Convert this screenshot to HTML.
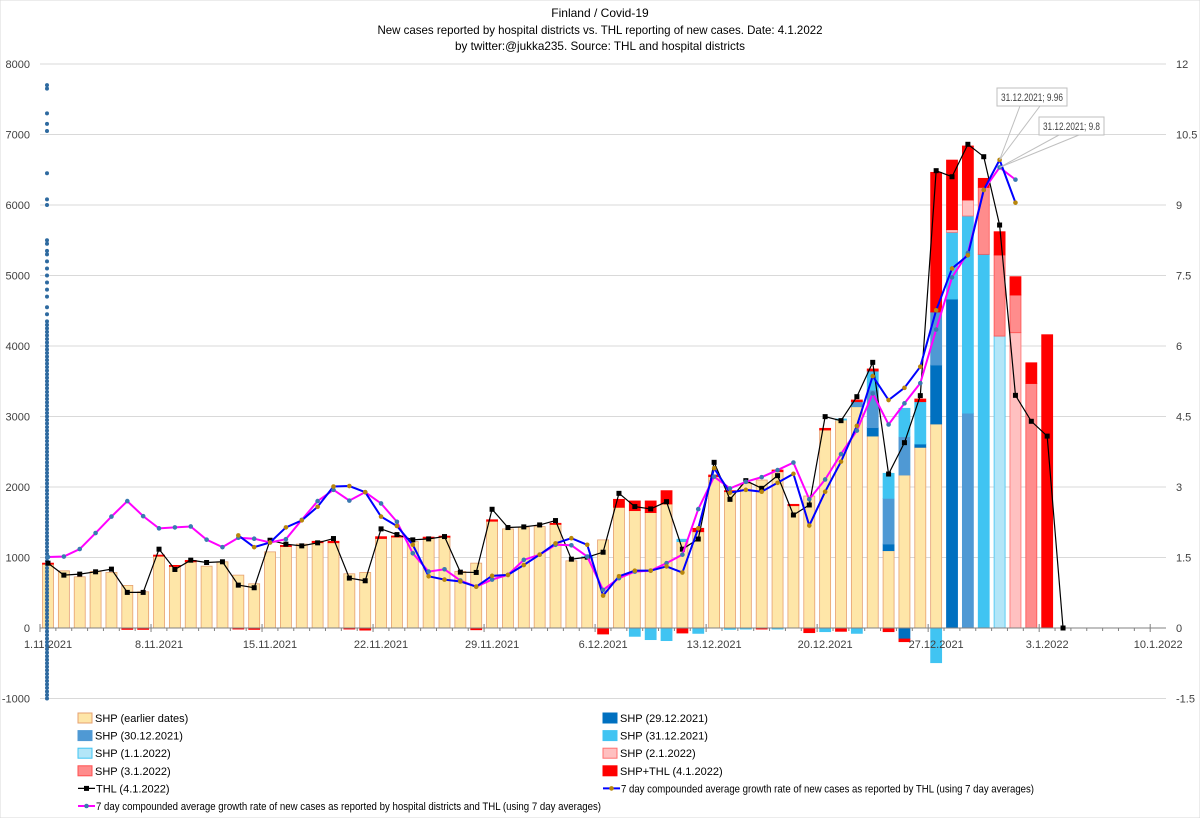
<!DOCTYPE html>
<html><head><meta charset="utf-8">
<style>
body{margin:0;background:#fff;}
svg{display:block;font-family:"Liberation Sans",Arial,sans-serif;}
</style></head>
<body>
<svg id="chart" width="1200" height="818" viewBox="0 0 1200 818" xmlns="http://www.w3.org/2000/svg">
<rect x="0" y="0" width="1200" height="818" fill="#fff" stroke="#d9d9d9"/>
<g font-size="12" text-anchor="middle" fill="#000">
<text x="600" y="17">Finland / Covid-19</text>
<text x="600" y="34" textLength="445" lengthAdjust="spacingAndGlyphs">New cases reported by hospital districts vs. THL reporting of new cases. Date: 4.1.2022</text>
<text x="600" y="50" textLength="290" lengthAdjust="spacingAndGlyphs">by twitter:@jukka235.  Source: THL and hospital districts</text>
</g>
<g id="grid"></g>
<g id="bars"></g>
<g id="axes"></g>
<g id="lines"></g>
<g id="labels"></g>
<g id="legend"></g>
</svg>
<script>
// ---- data ----
const tickDates = ["1.11.2021","8.11.2021","15.11.2021","22.11.2021","29.11.2021","6.12.2021","13.12.2021","20.12.2021","27.12.2021","3.1.2022","10.1.2022"];
const leftTicks = [8000,7000,6000,5000,4000,3000,2000,1000,0,-1000];
const rightTicks = ["12","10.5","9","7.5","6","4.5","3","1.5","0","-1.5"];
const shpEarlier = [905,811,726,802,788,604,514,1019,873,939,877,939,750,627,1080,1156,1190,1210,1210,769,788,1270,1290,1226,1274,1288,802,920,1515,1406,1429,1439,1470,953,1000,1250,1712,1665,1637,1759,1226,1366,2147,1934,2052,2099,2217,1735,1872,2809,2950,3139,2723,1097,2170,2563,2894];
const shp2912 = {52:119,53:94,54:-156,55:47,56:836,57:4666};
const shp3012 = {51:71,52:534,53:648,54:544,56:752,58:3048};
const shp3112 = {34:13,37:-118,38:-165,39:-179,40:33,41:-76,43:-19,44:-15,46:-15,49:-52,50:15,51:-76,52:269,53:355,54:402,55:600,56:-492,57:946,58:2796,59:5300};
const shp0101 = {60:4141};
const shp0201 = {57:38,58:227,61:4189};
const shp0301 = {59:950,60:1150,61:534,62:3468};
const shpThl = {0:15,5:-20,6:-20,7:15,8:15,9:20,12:-15,13:-20,15:15,17:20,18:20,19:-15,20:-30,21:25,22:15,24:15,25:15,27:-25,28:20,32:15,35:-85,36:113,37:137,38:165,39:189,40:-71,41:48,42:23,43:14,45:-15,46:24,47:19,48:-66,49:23,50:-47,51:24,52:29,53:-52,54:-38,55:38,56:1981,57:987,58:766,59:128,60:330,61:260,62:294,63:4160};
const thl = [920,750,764,797,835,505,505,1118,830,962,929,939,608,571,1245,1189,1165,1208,1269,708,670,1406,1325,1250,1264,1297,792,788,1684,1425,1434,1462,1524,976,1005,1075,1910,1722,1689,1792,1118,1262,2350,1825,2090,1981,2161,1603,1745,2998,2941,3281,3768,2184,2629,3296,6487,6401,6861,6685,5716,3300,2932,2722,0];
const rateShpThl = [1.51,1.52,1.68,2.02,2.37,2.70,2.38,2.12,2.14,2.16,1.88,1.72,1.92,1.90,1.82,1.89,2.30,2.70,2.94,2.71,2.89,2.65,2.26,1.59,1.20,1.25,1.01,0.88,1.03,1.13,1.45,1.56,1.77,1.76,1.52,0.81,1.06,1.20,1.22,1.38,1.56,2.53,3.22,2.97,3.11,3.21,3.36,3.52,2.74,3.16,3.70,4.20,4.99,4.33,4.78,5.21,6.35,7.46,7.98,9.32,9.80,9.54];
const rateThlStart = 12;
const rateThl = [1.97,1.72,1.82,2.14,2.29,2.58,3.01,3.02,2.89,2.37,2.17,1.77,1.10,1.03,0.99,0.88,1.11,1.13,1.34,1.56,1.80,1.91,1.77,0.69,1.10,1.22,1.22,1.31,1.18,2.12,3.40,2.88,2.94,2.90,3.09,3.28,2.18,2.90,3.54,4.30,5.36,4.85,5.11,5.56,6.76,7.65,7.93,9.32,9.96,9.05];
const markerColumn = [-1000,-950,-900,-850,-800,-750,-700,-650,-600,-550,-500,-450,-400,-350,-300,-250,-200,-150,-100,-50,0,50,100,150,200,250,300,350,400,450,500,550,600,650,700,750,800,850,900,950,1000,1050,1100,1150,1200,1250,1300,1350,1400,1450,1500,1550,1600,1650,1700,1750,1800,1850,1900,1950,2000,2050,2100,2150,2200,2250,2300,2350,2400,2450,2500,2550,2600,2650,2700,2750,2800,2850,2900,2950,3000,3050,3100,3150,3200,3250,3300,3350,3400,3450,3500,3550,3600,3650,3700,3750,3800,3850,3900,3950,4000,4050,4100,4150,4200,4250,4300,4350,4450,4550,4700,4800,4900,5000,5100,5200,5300,5350,5450,5500,6000,6080,6450,7050,7150,7300,7650,7700];

// ---- scales ----
const X0=48, DX=15.86, Y0=628, KY=0.0705, KR=47;
const xOf = i => X0 + i*DX;
const yOf = v => Y0 - v*KY;
const yR = r => Y0 - r*KR;
const NS="http://www.w3.org/2000/svg";
function mk(tag, attrs, parent){const e=document.createElementNS(NS,tag);for(const k in attrs)e.setAttribute(k,attrs[k]);parent.appendChild(e);return e;}
const grid=document.getElementById('grid'), bars=document.getElementById('bars'), axes=document.getElementById('axes'), lines=document.getElementById('lines'), labels=document.getElementById('labels'), legend=document.getElementById('legend');

// grid + tick labels
leftTicks.forEach((v,k)=>{
  if(v!==0){const g=mk('line',{x1:40,x2:1166,y1:yOf(v),y2:yOf(v),stroke:'#d9d9d9','stroke-width':1},grid);
  
  }
  const t=mk('text',{x:30,y:yOf(v)+4,'text-anchor':'end','font-size':11,fill:'#404040'},axes);t.textContent=v;
  
  
  const r=mk('text',{x:1176,y:yOf(v)+4,'font-size':11,fill:'#404040'},axes);r.textContent=rightTicks[k];
  
  
});

// bars
const series=[
 {d:null,fill:'#fee6a8',stroke:'#e6a070',name:'bar-shp-earlier'},
 {d:shp2912,fill:'#0070c0',stroke:'#0070c0',name:'bar-shp-29-12'},
 {d:shp3012,fill:'#4f99d4',stroke:'#4f99d4',name:'bar-shp-30-12'},
 {d:shp3112,fill:'#40c4f2',stroke:'#40c4f2',name:'bar-shp-31-12'},
 {d:shp0101,fill:'#b3e6f8',stroke:'#40c4f2',name:'bar-shp-1-1'},
 {d:shp0201,fill:'#ffc0c0',stroke:'#ff7070',name:'bar-shp-2-1'},
 {d:shp0301,fill:'#ff8c8c',stroke:'#ff5050',name:'bar-shp-3-1'},
 {d:shpThl,fill:'#ff0000',stroke:'#ff0000',name:'bar-shp-thl'}
];
const BW=11;
for(let i=0;i<64;i++){
  let pos=0,neg=0;
  series.forEach(s=>{
    let v = s.d===null ? (shpEarlier[i]||0) : (s.d[i]||0);
    if(!v) return;
    let a,b;
    if(v>0){a=pos;b=pos+v;pos=b;}else{a=neg;b=neg+v;neg=b;}
    const y1=yOf(Math.max(a,b)), y2=yOf(Math.min(a,b));
    const r=mk('rect',{x:xOf(i)-BW/2,y:y1,width:BW,height:Math.max(y2-y1,0.8),fill:s.fill,stroke:s.stroke,'stroke-width':0.8},bars);
    
    
  });
}

// x axis
mk('line',{x1:40,x2:1166,y1:Y0,y2:Y0,stroke:'#808080','stroke-width':1},axes);
for(let i=0;i<=70;i++){
  const major=i%7===0, x=xOf(i)-8;
  mk('line',{x1:x,x2:x,y1:Y0-(major?4:0),y2:Y0+(major?4:3),stroke:'#808080','stroke-width':1},axes);
}
tickDates.forEach((d,k)=>{
  const t=mk('text',{x:xOf(k*7),y:648,'text-anchor':'middle','font-size':11,fill:'#404040'},axes);t.textContent=d;
  
  
});

// marker column
markerColumn.forEach(v=>{
  const c=mk('circle',{cx:47,cy:yOf(v),r:2,fill:'#2e6aa0'},lines);
  
  
});

// THL black line
const thlPts=thl.map((v,i)=>xOf(i)+','+yOf(v)).join(' ');
const tl=mk('polyline',{points:thlPts,fill:'none',stroke:'#000','stroke-width':1.2},lines);


thl.forEach((v,i)=>{const m=mk('rect',{x:xOf(i)-2.5,y:yOf(v)-2.5,width:5,height:5,fill:'#000'},lines);
  
  });

// magenta rate line
const mp=rateShpThl.map((r,i)=>xOf(i)+','+yR(r)).join(' ');
const ml=mk('polyline',{points:mp,fill:'none',stroke:'#ff00ff','stroke-width':2},lines);


// blue rate line
const bp=rateThl.map((r,k)=>xOf(k+rateThlStart)+','+yR(r)).join(' ');
const bl=mk('polyline',{points:bp,fill:'none',stroke:'#0000ff','stroke-width':2},lines);


rateShpThl.forEach((r,i)=>{const c=mk('circle',{cx:xOf(i),cy:yR(r),r:2.3,fill:'#3a7ab0'},lines);
  
  });
rateThl.forEach((r,k)=>{const c=mk('circle',{cx:xOf(k+rateThlStart),cy:yR(r),r:2.3,fill:'#b8860b'},lines);
  
  });

// data labels
const pIdx=60;
const px=xOf(pIdx), pyB=yR(rateThl[pIdx-rateThlStart]), pyM=yR(rateShpThl[pIdx]);
[[1032,97,'31.12.2021; '+rateThl[pIdx-rateThlStart],997,70,pyB],[1071,126,'31.12.2021; '+rateShpThl[pIdx],1039,65,pyM]].forEach(([cx,cy,txt,bx,bw,py])=>{
  mk('line',{x1:px,y1:py,x2:cx-12,y2:cy+9,stroke:'#bfbfbf','stroke-width':1},labels);
  mk('line',{x1:px,y1:py,x2:cx+8,y2:cy+9,stroke:'#bfbfbf','stroke-width':1},labels);
  const b=mk('rect',{x:bx,y:cy-9,width:bw,height:18,fill:'#fff',stroke:'#bfbfbf'},labels);
  
  
  const t=mk('text',{x:bx+bw/2,y:cy+4,'text-anchor':'middle','font-size':11,fill:'#404040',textLength:bw-8,lengthAdjust:'spacingAndGlyphs'},labels);t.textContent=txt;
  
  
});

// legend
const legItems=[
 ['rect','#fee6a8','#e6a070','SHP (earlier dates)',0,0,0],
 ['rect','#0070c0','#0070c0','SHP (29.12.2021)',1,0,0],
 ['rect','#4f99d4','#4f99d4','SHP (30.12.2021)',0,1,0],
 ['rect','#40c4f2','#40c4f2','SHP (31.12.2021)',1,1,0],
 ['rect','#b3e6f8','#40c4f2','SHP (1.1.2022)',0,2,0],
 ['rect','#ffc0c0','#ff7070','SHP (2.1.2022)',1,2,0],
 ['rect','#ff8c8c','#ff5050','SHP (3.1.2022)',0,3,0],
 ['rect','#ff0000','#ff0000','SHP+THL (4.1.2022)',1,3,0],
 ['line','#000','sq','THL (4.1.2022)',0,4,0],
 ['line','#0000ff','#b8860b','7 day compounded average growth rate of new cases as reported by THL (using 7 day averages)',1,4,413],
 ['line','#ff00ff','#3a7ab0','7 day compounded average growth rate of new cases as reported by hospital districts and THL (using 7 day averages)',0,5,505]
];
legItems.forEach(([type,c1,c2,txt,col,row,tl])=>{
  const x=col?603:78, y=718+row*17.6;
  const g=mk('g',{},legend);
  
  
  if(type==='rect'){mk('rect',{x:x,y:y-5,width:14,height:10,fill:c1,stroke:c2},g);}
  else{mk('line',{x1:x,x2:x+17,y1:y,y2:y,stroke:c1,'stroke-width':c1==='#000'?1.2:2},g);
    if(c2==='sq')mk('rect',{x:x+6,y:y-2.5,width:5,height:5,fill:'#000'},g);
    else mk('circle',{cx:x+8.5,cy:y,r:2.3,fill:c2},g);}
  const at={x:x+(type==='rect'?17:18),y:y+4,'font-size':11,fill:'#000'};
  if(tl){at.textLength=tl;at.lengthAdjust='spacingAndGlyphs';}
  const t=mk('text',at,g);t.textContent=txt;
});
</script>
</body></html>
